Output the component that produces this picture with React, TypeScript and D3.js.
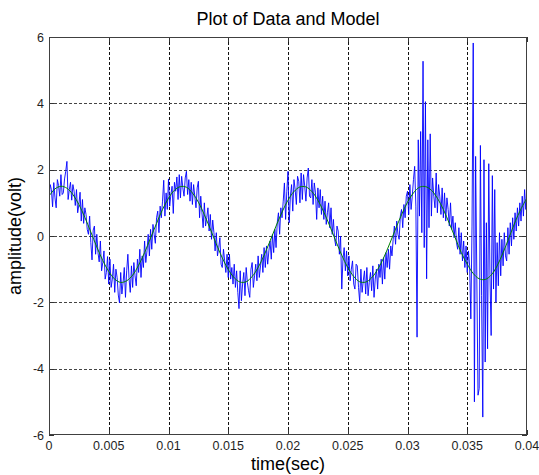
import React from "react";
import * as d3 from "d3";

// sample spacing of the measured signal and of the model curve (seconds)
const SAMPLE_STEP = 0.0001;
const MODEL_STEP = 0.0005;

// measured data (volts), one value every 0.1 ms from 0 to 0.04 s
const dataValues: number[] = [
  1.05, 1.55, 1.40, 0.88, 1.61, 1.15, 0.85, 1.70, 1.52, 1.20,
  1.85, 1.25, 1.30, 1.72, 1.95, 2.25, 1.10, 1.40, 1.62, 1.08,
  1.55, 1.35, 0.92, 1.40, 0.70, 0.95, 1.32, 0.45, 1.10, 0.38,
  0.85, 0.65, 0.20, 0.05, 0.60, -0.20, -0.72, 0.18, 0.30, -0.55,
  0.05, -0.50, -0.78, -0.15, -1.05, -0.80, -0.45, -1.30, -1.10, -0.62,
  -1.45, -0.70, -1.55, -1.30, -0.85, -1.70, -1.00, -1.25, -1.78, -2.02,
  -1.10, -1.75, -1.40, -0.95, -1.85, -1.05, -0.55, -1.30, -1.70, -0.90,
  -1.55, -0.80, -1.20, -1.50, -0.70, -1.10, -0.40, -1.25, -0.60, -0.95,
  -0.15, -0.80, -0.45, 0.05, -0.60, 0.20, -0.40, 0.35, 0.05, -0.22,
  0.55, 0.75, 0.10, 0.90, 0.55, 1.05, 1.68, 0.60, 1.30, 0.80,
  1.72, 0.90, 1.25, 1.50, 0.68, 1.62, 1.35, 1.78, 1.10, 1.85,
  1.15, 1.80, 1.45, 1.20, 1.75, 1.95, 1.25, 1.70, 1.05, 1.62,
  0.95, 1.55, 1.20, 0.85, 1.45, 1.65, 0.55, 1.20, 0.70, 0.25,
  1.00, 0.30, 0.55, 0.85, 0.15, 0.65, -0.10, 0.48, 0.10, -0.45,
  0.10, -0.60, -0.35, -0.05, -0.85, -0.95, -0.40, -0.75, -1.10, -0.55,
  -1.25, -0.55, -1.30, -0.95, -1.45, -0.85, -1.55, -1.05, -1.70, -2.19,
  -1.05, -1.95, -1.45, -1.10, -1.80, -0.95, -1.40, -1.65, -1.85, -1.00,
  -0.80, -1.55, -1.20, -0.85, -1.35, -0.60, -1.25, -0.90, -0.55, -1.10,
  -0.35, -0.95, -0.30, -0.85, -0.45, -0.15, -0.70, 0.05, -0.50, 0.20,
  -0.35, 0.40, 0.70, 0.05, 0.85, 0.55, 1.05, 1.60, 0.50, 1.35,
  1.95, 0.40, 1.20, 1.55, 0.75, 1.70, 1.40, 0.95, 1.80, 1.65,
  1.00, 1.90, 1.10, 1.85, 1.50, 1.05, 1.75, 2.05, 1.20, 1.15,
  1.70, 0.95, 1.60, 1.30, 0.50, 1.45, 0.85, 1.40, 0.65, 1.20,
  0.50, 1.05, 0.35, 0.70, 1.00, 0.25, 0.85, 0.05, 0.50, -0.10,
  -0.30, 0.30, 0.15, -0.55, 0.00, -1.60, -0.70, -0.35, -1.05, -0.45,
  -1.20, -0.60, -1.35, -1.00, -0.75, -1.45, -1.60, -0.85, -0.90, -1.55,
  -1.98, -1.00, -1.70, -1.35, -1.05, -1.75, -0.95, -1.80, -1.40, -1.10,
  -1.65, -0.90, -1.85, -1.30, -1.00, -1.60, -0.85, -1.25, -0.70, -1.45,
  -0.65, -1.30, -0.50, -0.95, -0.40, -1.00, -0.30, -0.60, -0.10, 0.30,
  -0.25, 0.45, 0.05, -0.10, 0.60, 0.80, 0.25, 0.95, 0.55, 1.20,
  1.35, 0.65, 1.55, 0.80, 1.20, 1.70, 2.10, 0.90, -3.05, 2.90,
  0.60, 3.15, 0.10, 5.27, -0.35, 4.05, -1.29, 2.90, 0.25, 3.08,
  0.60, 1.75, 1.20, 0.85, 1.90, 0.70, 1.55, 1.20, 0.65, 1.45,
  0.55, 1.30, 0.45, 1.15, 0.80, 0.30, 1.00, 0.20, 0.60, -0.05,
  0.40, -0.20, -0.40, 0.25, -0.55, 0.10, -0.75, -0.15, -0.95, -0.30,
  -1.10, -0.45, -0.90, -2.50, 0.30, 5.82, -5.00, 2.40, -1.20, -4.80,
  -4.60, 2.73, -1.80, -5.46, 2.30, -3.80, 0.40, -3.40, 2.18, -1.20,
  -3.00, 1.82, -1.60, 1.40, -2.00, -0.20, -1.50, 0.10, -1.20, -0.10,
  -0.90, 0.10, -0.60, -0.75, 0.25, -0.55, 0.40, -0.30, 0.55, -0.10,
  0.70, 0.15, 0.85, 0.30, 1.00, 0.45, 1.20, 0.60, 1.40, 0.80,
  1.30,
];

// fitted model (volts), one value every 0.5 ms from 0 to 0.04 s
const modelValues: number[] = [
  1.20, 1.42, 1.50, 1.44, 1.25, 0.95, 0.56, 0.12, -0.33, -0.74,
  -1.07, -1.30, -1.40, -1.35, -1.18, -0.88, -0.50, -0.06, 0.38, 0.80,
  1.14, 1.38, 1.49, 1.47, 1.30, 1.02, 0.64, 0.21, -0.24, -0.66,
  -1.01, -1.26, -1.39, -1.38, -1.22, -0.95, -0.58, -0.15, 0.30, 0.72,
  1.08, 1.34, 1.48, 1.48, 1.34, 1.08, 0.72, 0.30, -0.15, -0.58,
  -0.95, -1.22, -1.38, -1.39, -1.26, -1.01, -0.66, -0.24, 0.21, 0.64,
  1.02, 1.30, 1.47, 1.49, 1.38, 1.14, 0.80, 0.38, -0.06, -0.50,
  -0.85, -1.13, -1.29, -1.31, -1.18, -0.90, -0.50, -0.05, 0.42, 0.82,
  1.15,
];

const xTicks = [0, 0.005, 0.01, 0.015, 0.02, 0.025, 0.03, 0.035, 0.04];
const xTickLabels = ["0", "0.005", "0.01", "0.015", "0.02", "0.025", "0.03", "0.035", "0.04"];
const yTicks = [-6, -4, -2, 0, 2, 4, 6];
const yTickLabels = ["-6", "-4", "-2", "0", "2", "4", "6"];

const TITLE = "Plot of Data and Model";
const X_LABEL = "time(sec)";
const Y_LABEL = "amplitude(volt)";

const W = 539;
const H = 475;
const PL = 49, PR = 527, PT = 37, PB = 435;
const FONT = "'Liberation Sans', Arial, Helvetica, sans-serif";

export default function App() {
  const x = d3.scaleLinear().domain([0, 0.04]).range([PL, PR]);
  const y = d3.scaleLinear().domain([-6, 6]).range([PB, PT]);

  const dataLine = d3
    .line<number>()
    .x((_, i) => x(i * SAMPLE_STEP))
    .y((d) => y(d));
  const modelLine = d3
    .line<number>()
    .x((_, i) => x(i * MODEL_STEP))
    .y((d) => y(d))
    .curve(d3.curveCatmullRom);

  return (
    <svg
      width={W}
      height={H}
      style={{ position: "absolute", left: 0, top: 0, background: "#fff" }}
    >
      <defs>
        <clipPath id="plotClip">
          <rect x={PL} y={PT} width={PR - PL} height={PB - PT} />
        </clipPath>
      </defs>
      <rect x={0} y={0} width={W} height={H} fill="#fff" />

      {/* grid */}
      <g shapeRendering="crispEdges">
        {xTicks.slice(1, -1).map((t) => (
          <line
            key={"gx" + t}
            x1={Math.round(x(t)) + 0.5}
            x2={Math.round(x(t)) + 0.5}
            y1={PT}
            y2={PB}
            stroke="#111"
            strokeWidth={1}
            strokeDasharray="2.5,2.5"
          />
        ))}
        {yTicks.slice(1, -1).map((t) => (
          <line
            key={"gy" + t}
            x1={PL}
            x2={PR}
            y1={Math.round(y(t)) + 0.5}
            y2={Math.round(y(t)) + 0.5}
            stroke="#444"
            strokeWidth={1}
            strokeDasharray="2.5,2.5"
          />
        ))}
      </g>

      {/* data and model */}
      <g clipPath="url(#plotClip)">
        <path d={dataLine(dataValues) || ""} fill="none" stroke="#0000ff" strokeWidth={0.9} />
        <path d={modelLine(modelValues) || ""} fill="none" stroke="#008000" strokeWidth={1} />
      </g>

      {/* ticks */}
      <g stroke="#333" strokeWidth={1} shapeRendering="crispEdges">
        {xTicks.map((t) => (
          <g key={"tx" + t}>
            <line x1={Math.round(x(t)) + 0.5} x2={Math.round(x(t)) + 0.5} y1={PB} y2={PB - 5} />
            <line x1={Math.round(x(t)) + 0.5} x2={Math.round(x(t)) + 0.5} y1={PT} y2={PT + 5} />
          </g>
        ))}
        {yTicks.map((t) => (
          <g key={"ty" + t}>
            <line x1={PL} x2={PL + 5} y1={Math.round(y(t)) + 0.5} y2={Math.round(y(t)) + 0.5} />
            <line x1={PR} x2={PR - 5} y1={Math.round(y(t)) + 0.5} y2={Math.round(y(t)) + 0.5} />
          </g>
        ))}
      </g>

      {/* box */}
      <rect
        x={PL + 0.5}
        y={PT + 0.5}
        width={PR - PL - 1}
        height={PB - PT - 1}
        fill="none"
        stroke="#404040"
        strokeWidth={1}
        shapeRendering="crispEdges"
      />

      {/* tick labels */}
      <g fontFamily={FONT} fontSize={12.5} fill="#1f1f1f">
        {xTicks.map((t, i) => (
          <text key={"lx" + t} x={x(t)} y={PB + 15} textAnchor="middle">
            {xTickLabels[i]}
          </text>
        ))}
        {yTicks.map((t, i) => (
          <text key={"ly" + t} x={PL - 5} y={y(t) + 4.5} textAnchor="end">
            {yTickLabels[i]}
          </text>
        ))}
      </g>

      {/* title and axis labels */}
      <text x={(PL + PR) / 2} y={25} textAnchor="middle" fontFamily={FONT} fontSize={18} fill="#000">
        {TITLE}
      </text>
      <text x={(PL + PR) / 2} y={470} textAnchor="middle" fontFamily={FONT} fontSize={18} fill="#000">
        {X_LABEL}
      </text>
      <text
        transform={`translate(21, ${(PT + PB) / 2}) rotate(-90)`}
        textAnchor="middle"
        fontFamily={FONT}
        fontSize={18}
        fill="#000"
      >
        {Y_LABEL}
      </text>
    </svg>
  );
}
